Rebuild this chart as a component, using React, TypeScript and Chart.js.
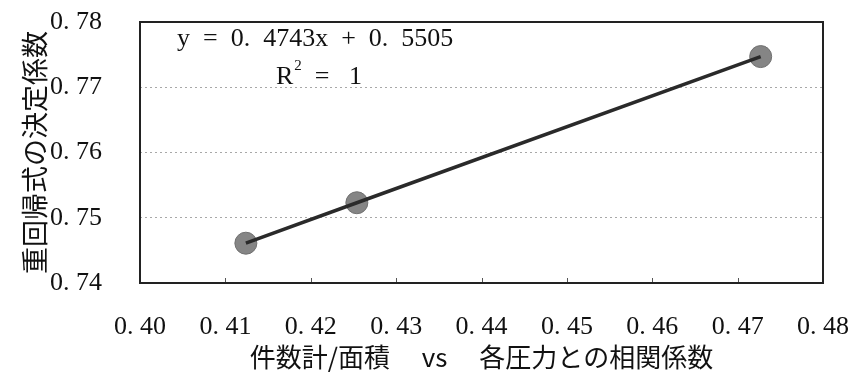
import { useEffect, useRef } from "react";
import { Chart, registerables } from "chart.js";

Chart.register(...registerables);

// ---- data ----
const pointX = [0.4124, 0.4254, 0.4727];
const pointY = [0.7461, 0.7523, 0.7747];

const xTickValues = [0.4, 0.41, 0.42, 0.43, 0.44, 0.45, 0.46, 0.47, 0.48];
const xTickLabels = ["0. 40", "0. 41", "0. 42", "0. 43", "0. 44", "0. 45", "0. 46", "0. 47", "0. 48"];
const yTickValues = [0.74, 0.75, 0.76, 0.77, 0.78];
const yTickLabels = ["0. 74", "0. 75", "0. 76", "0. 77", "0. 78"];

const xTitle = "件数計/面積　 vs 　各圧力との相関係数";
const yTitle = "重回帰式の決定係数";
const equationText = "y  =  0.  4743x  +  0.  5505";
const r2Label = "R";
const r2Sup = "2";
const r2Rest = "  =   1";

const SERIF = '"Liberation Serif", "DejaVu Serif", serif';
const CJK = '"Noto Sans CJK JP", "Noto Sans", sans-serif';

function labelFor(values: number[], labels: string[], v: number): string {
  for (let i = 0; i < values.length; i++) {
    if (Math.abs(values[i] - v) < 1e-6) return labels[i];
  }
  return "";
}

const framePlugin = {
  id: "frameAndEquation",
  afterDraw(chart: any) {
    const { ctx, chartArea } = chart;
    const { left, right, top, bottom } = chartArea;
    const xs = chart.scales.x;
    ctx.save();
    // small inward tick marks on the bottom edge
    ctx.strokeStyle = "#555";
    ctx.lineWidth = 1;
    ctx.beginPath();
    for (const v of xTickValues) {
      const px = Math.round(xs.getPixelForValue(v)) + 0.5;
      ctx.moveTo(px, bottom);
      ctx.lineTo(px, bottom - 5);
    }
    ctx.stroke();

    // plot frame
    ctx.strokeStyle = "#222";
    ctx.lineWidth = 2;
    ctx.strokeRect(left, top, right - left, bottom - top);

    // trendline equation
    ctx.fillStyle = "#111";
    ctx.textBaseline = "middle";
    ctx.textAlign = "left";
    ctx.font = `26px ${SERIF}`;
    ctx.fillText(equationText, left + 37, top + 17);

    const rx = left + 136;
    const ry = top + 55;
    ctx.fillText(r2Label, rx, ry);
    const rw = ctx.measureText(r2Label).width;
    ctx.font = `15px ${SERIF}`;
    ctx.fillText(r2Sup, rx + rw + 1, ry - 11);
    const sw = ctx.measureText(r2Sup).width;
    ctx.font = `26px ${SERIF}`;
    ctx.fillText(r2Rest, rx + rw + sw + 1, ry);
    ctx.restore();
  },
};

export default function App() {
  const canvasRef = useRef<HTMLCanvasElement | null>(null);

  useEffect(() => {
    document.body.style.margin = "0";
    const canvas = canvasRef.current;
    if (!canvas) return;

    const points = pointX.map((x, i) => ({ x, y: pointY[i] }));

    const chart = new Chart(canvas, {
      type: "scatter",
      data: {
        datasets: [
          {
            label: "trend",
            data: points,
            showLine: true,
            borderColor: "#2a2a2a",
            borderWidth: 3.5,
            pointRadius: 0,
            order: 0,
          },
          {
            label: "points",
            data: points,
            showLine: false,
            backgroundColor: "#858585",
            borderColor: "#707070",
            borderWidth: 1,
            pointRadius: 11,
            order: 1,
          },
        ],
      },
      options: {
        responsive: false,
        animation: false,
        layout: { padding: { top: 22, right: 27, left: 0, bottom: 0 } },
        plugins: {
          legend: { display: false },
          tooltip: { enabled: false },
        },
        scales: {
          x: {
            type: "linear",
            min: 0.4,
            max: 0.48,
            afterFit: (s: any) => {
              s.height = 95;
            },
            ticks: {
              stepSize: 0.01,
              padding: 0,
              color: "#111",
              font: { family: SERIF, size: 26 },
              callback: (v: any) => labelFor(xTickValues, xTickLabels, Number(v)),
            },
            grid: {
              drawOnChartArea: false,
              drawTicks: true,
              tickLength: 29,
              tickColor: "rgba(0,0,0,0)",
              color: "rgba(0,0,0,0)",
            },
            border: { display: false },
            title: {
              display: true,
              text: xTitle,
              color: "#111",
              font: { family: CJK, size: 26, lineHeight: 1.2 },
              padding: { top: 0, bottom: 5 },
            },
          },
          y: {
            type: "linear",
            min: 0.74,
            max: 0.78,
            afterFit: (s: any) => {
              s.width = 140;
            },
            ticks: {
              stepSize: 0.01,
              padding: 0,
              color: "#111",
              font: { family: SERIF, size: 26 },
              callback: (v: any) => labelFor(yTickValues, yTickLabels, Number(v)),
            },
            grid: {
              drawOnChartArea: true,
              drawTicks: true,
              tickLength: 38,
              tickColor: "rgba(0,0,0,0)",
              color: "#a8a8a8",
              lineWidth: 1,
              borderDash: [2, 3],
            } as any,
            border: { display: false, dash: [2, 3] },
            title: {
              display: true,
              text: yTitle,
              color: "#111",
              font: { family: CJK, size: 27, lineHeight: 1.2 },
              padding: { top: 19, bottom: 0 },
            },
          },
        },
      },
      plugins: [framePlugin],
    } as any);

    return () => chart.destroy();
  }, []);

  return (
    <div style={{ width: 850, height: 378, background: "#fff" }}>
      <canvas ref={canvasRef} width={850} height={378} style={{ display: "block" }} />
    </div>
  );
}
